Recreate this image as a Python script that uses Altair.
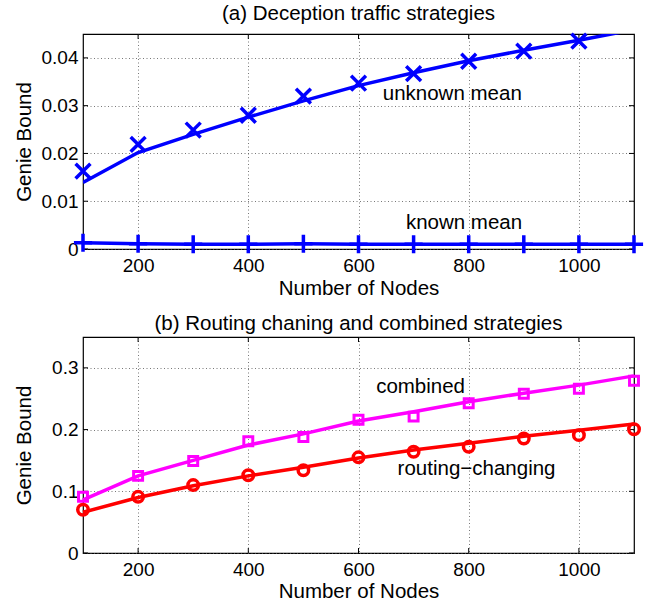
import altair as alt
import pandas as pd

# ---------------- data ----------------
nodes = [100, 200, 300, 400, 500, 600, 700, 800, 900, 1000, 1100]

# (a) deception traffic strategies
unknown_nodes = [100, 200, 300, 400, 500, 600, 700, 800, 900, 1000]
unknown_pts = [0.0163, 0.0219, 0.0249, 0.0280, 0.0320, 0.0347, 0.0367, 0.0393, 0.0414, 0.0435]
unknown_fit = [0.0139, 0.0202, 0.0240, 0.0276, 0.0310, 0.0342, 0.0369, 0.0394, 0.0416, 0.0437, 0.0459]
known_mean = [0.0013, 0.0011, 0.0010, 0.0010, 0.0011, 0.0010, 0.0010, 0.0010, 0.0010, 0.0010, 0.0010]

# (b) routing changing and combined strategies
combined_pts = [0.091, 0.125, 0.149, 0.181, 0.188, 0.216, 0.221, 0.2425, 0.258, 0.266, 0.279]
combined_fit = [0.086, 0.125, 0.150, 0.175, 0.193, 0.214, 0.229, 0.245, 0.259, 0.272, 0.287]
routing_pts = [0.070, 0.091, 0.110, 0.126, 0.134, 0.155, 0.164, 0.172, 0.1855, 0.191, 0.2005]
routing_fit = [0.066, 0.090, 0.109, 0.125, 0.139, 0.154, 0.167, 0.178, 0.189, 0.199, 0.209]

x_ticks = [200, 400, 600, 800, 1000]
y_ticks_a = [0, 0.01, 0.02, 0.03, 0.04]
y_ticks_b = [0, 0.1, 0.2, 0.3]

title_a = "(a) Deception traffic strategies"
title_b = "(b) Routing chaning and combined strategies"
x_title = "Number of Nodes"
y_title = "Genie Bound"

labels_a = ["unknown mean", "known mean"]
labels_a_x = [644, 686]
labels_a_y = [0.0312, 0.0042]
labels_b = ["combined", "routing\u2212changing"]
labels_b_x = [632, 671]
labels_b_y = [0.2585, 0.127]

# ---------------- style ----------------
FONT = "Liberation Sans"
FS = 20.5
W = 551
H1 = 215
H2 = 216
BLUE = "#0000ff"
MAGENTA = "#ff00ff"
RED = "#ff0000"
LW = 3.5
XSHAPE = "M-1,-1L1,1M-1,1L1,-1"
PLUS = "M-1,0L1,0M0,-1L0,1"


def x_enc(title_y):
    axis = alt.Axis(values=x_ticks, format="d", title=x_title, grid=True,
                    ticks=False, tickSize=0, domain=False, labelPadding=7,
                    titleY=title_y)
    return alt.X("n:Q", scale=alt.Scale(domain=[100, 1100], nice=False, zero=False), axis=axis)


def y_enc(domain, ticks, fmt, h):
    axis = alt.Axis(values=ticks, format=fmt, title=y_title, grid=True,
                    ticks=False, tickSize=0, domain=False, labelPadding=5,
                    titleX=-59, titleY=h / 2, titleBaseline="middle")
    return alt.Y("v:Q", scale=alt.Scale(domain=domain, nice=False, zero=False), axis=axis)


def inward_ticks(X, Y, h, yticks):
    xt = pd.DataFrame({"n": x_ticks})
    yt = pd.DataFrame({"v": yticks})
    r = dict(color="black", strokeWidth=1)
    return [
        alt.Chart(xt).mark_rule(**r).encode(x=X, y=alt.value(0), y2=alt.value(5)),
        alt.Chart(xt).mark_rule(**r).encode(x=X, y=alt.value(h - 5), y2=alt.value(h)),
        alt.Chart(yt).mark_rule(**r).encode(y=Y, x=alt.value(0), x2=alt.value(5)),
        alt.Chart(yt).mark_rule(**r).encode(y=Y, x=alt.value(W - 5), x2=alt.value(W)),
    ]


def title_params(t):
    return alt.TitleParams(t, fontSize=FS, fontWeight="normal", font=FONT,
                           color="black", anchor="middle", offset=2)


# ---------------- panel (a) ----------------
XA = x_enc(29)
YA = y_enc([0, 0.045], y_ticks_a, ".2~f", H1)
df_unk_fit = pd.DataFrame({"n": nodes, "v": unknown_fit})
df_unk_pts = pd.DataFrame({"n": unknown_nodes, "v": unknown_pts})
df_known = pd.DataFrame({"n": nodes, "v": known_mean})
df_lab_a = pd.DataFrame({"n": labels_a_x, "v": labels_a_y, "t": labels_a})

a_unk_line = alt.Chart(df_unk_fit).mark_line(color=BLUE, strokeWidth=LW, clip=True).encode(x=XA, y=YA)
a_unk_pts = alt.Chart(df_unk_pts).mark_point(
    shape=XSHAPE, filled=False, color=BLUE, strokeWidth=LW, size=220, opacity=1).encode(x=XA, y=YA)
a_known_line = alt.Chart(df_known).mark_line(color=BLUE, strokeWidth=LW).encode(x=XA, y=YA)
a_known_pts = alt.Chart(df_known).mark_point(
    shape=PLUS, filled=False, color=BLUE, strokeWidth=LW, size=330, opacity=1).encode(x=XA, y=YA)
a_text = alt.Chart(df_lab_a).mark_text(
    align="left", baseline="alphabetic", font=FONT, fontSize=FS, color="black").encode(
    x=XA, y=YA, text="t:N")

panel_a = alt.layer(
    a_unk_line, *inward_ticks(XA, YA, H1, y_ticks_a), a_known_line, a_known_pts, a_unk_pts, a_text
).properties(width=W, height=H1, title=title_params(title_a))

# ---------------- panel (b) ----------------
XB = x_enc(28.6)
YB = y_enc([0, 0.35], y_ticks_b, ".1~f", H2)
df_comb_fit = pd.DataFrame({"n": nodes, "v": combined_fit})
df_comb_pts = pd.DataFrame({"n": nodes, "v": combined_pts})
df_rout_fit = pd.DataFrame({"n": nodes, "v": routing_fit})
df_rout_pts = pd.DataFrame({"n": nodes, "v": routing_pts})
df_lab_b = pd.DataFrame({"n": labels_b_x, "v": labels_b_y, "t": labels_b})

b_comb_line = alt.Chart(df_comb_fit).mark_line(color=MAGENTA, strokeWidth=LW).encode(x=XB, y=YB)
b_comb_pts = alt.Chart(df_comb_pts).mark_point(
    shape="square", filled=False, color=MAGENTA, strokeWidth=3, size=80, opacity=1).encode(x=XB, y=YB)
b_rout_line = alt.Chart(df_rout_fit).mark_line(color=RED, strokeWidth=LW).encode(x=XB, y=YB)
b_rout_pts = alt.Chart(df_rout_pts).mark_point(
    shape="circle", filled=False, color=RED, strokeWidth=LW, size=110, opacity=1).encode(x=XB, y=YB)
b_text = alt.Chart(df_lab_b).mark_text(
    align="left", baseline="alphabetic", font=FONT, fontSize=FS, color="black").encode(
    x=XB, y=YB, text="t:N")

panel_b = alt.layer(
    b_comb_line, *inward_ticks(XB, YB, H2, y_ticks_b), b_rout_line, b_rout_pts, b_comb_pts, b_text
).properties(width=W, height=H2, title=title_params(title_b))

chart = alt.vconcat(panel_a, panel_b, spacing=13).properties(
    padding={"left": 13, "top": 3, "right": 0, "bottom": 0}
).configure(font=FONT).configure_view(
    stroke="black", strokeWidth=1.2
).configure_axis(
    labelFont=FONT, labelFontSize=19, labelColor="black",
    titleFont=FONT, titleFontSize=FS, titleColor="black", titleFontWeight="normal",
    gridColor="#555555", gridDash=[1, 2.5], gridWidth=0.8, gridOpacity=1,
    labelFlush=False, labelOverlap=False
).configure_axisX(titleBaseline="top")

chart.save("out.html", embed_options={"renderer": "svg", "actions": False})
